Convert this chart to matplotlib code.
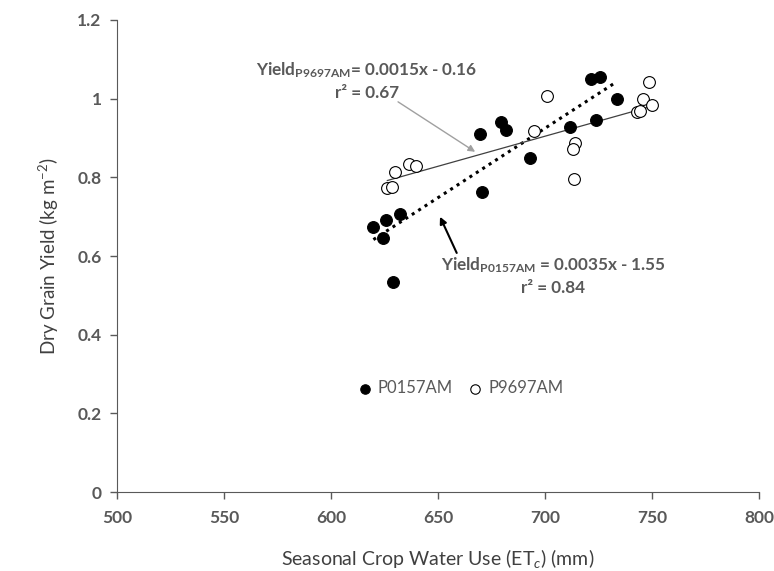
import numpy as np
import matplotlib
matplotlib.use("Agg")
import matplotlib.pyplot as plt

# ------------------------------------------------------------
# Data
# ------------------------------------------------------------

# P0157AM (filled circles)
etc_p0157 = [619.8, 625.7, 632.2, 624.2, 628.8, 670.6, 669.6, 679.3,
             681.8, 693.0, 721.4, 725.7, 733.5, 711.4, 723.8]
yield_p0157 = [0.673, 0.691, 0.706, 0.645, 0.534, 0.762, 0.909, 0.940,
               0.920, 0.850, 1.050, 1.055, 1.000, 0.928, 0.945]

# P9697AM (open circles)
etc_p9697 = [626.3, 628.4, 629.9, 636.6, 639.7, 700.8, 694.9, 714.0,
             712.9, 713.6, 748.7, 745.6, 750.0, 742.8, 744.4]
yield_p9697 = [0.772, 0.776, 0.814, 0.835, 0.828, 1.006, 0.917, 0.888,
               0.871, 0.795, 1.042, 0.999, 0.985, 0.966, 0.968]

x_ticks = [500, 550, 600, 650, 700, 750, 800]
y_ticks = [0, 0.2, 0.4, 0.6, 0.8, 1.0, 1.2]
y_tick_labels = ["0", "0.2", "0.4", "0.6", "0.8", "1", "1.2"]

# ------------------------------------------------------------
# Style
# ------------------------------------------------------------

plt.rcParams["font.family"] = ["Lato", "DejaVu Sans"]
plt.rcParams["mathtext.fontset"] = "custom"
plt.rcParams["mathtext.rm"] = "Lato"
plt.rcParams["mathtext.it"] = "Lato:italic"
plt.rcParams["mathtext.bf"] = "Lato:bold"

gray = "#595959"

fig = plt.figure(figsize=(7.74, 5.71), dpi=100)
ax = fig.add_axes([0.151, 0.138, 0.830, 0.827])

# ------------------------------------------------------------
# Scatter
# ------------------------------------------------------------

ax.scatter(etc_p0157, yield_p0157, s=72, color="black",
           edgecolor="black", linewidth=0.8, label="P0157AM", zorder=3)
ax.scatter(etc_p9697, yield_p9697, s=72, facecolor="white",
           edgecolor="black", linewidth=0.8, label="P9697AM", zorder=3)

# Trend lines (least squares on the data)
a1, b1 = np.polyfit(etc_p0157, yield_p0157, 1)
xs1 = np.array([min(etc_p0157), max(etc_p0157)])
ax.plot(xs1, a1 * xs1 + b1, color="black", linestyle=(0, (1, 1.5)),
        linewidth=2.2, zorder=2)

a2, b2 = np.polyfit(etc_p9697, yield_p9697, 1)
xs2 = np.array([min(etc_p9697), max(etc_p9697)])
ax.plot(xs2, a2 * xs2 + b2, color="#404040", linewidth=0.9, zorder=2)

# ------------------------------------------------------------
# Equations and arrows
# ------------------------------------------------------------

ax.text(616.8, 1.072, r"Yield$_{\mathbf{P9697AM}}$= 0.0015x - 0.16",
        ha="center", va="center", fontsize=12.3, fontweight="bold", color=gray)
ax.text(616.8, 1.014, "r² = 0.67", ha="center", va="center",
        fontsize=12.3, fontweight="bold", color=gray)

ax.text(703.7, 0.577, r"Yield$_{\mathbf{P0157AM}}$ = 0.0035x - 1.55",
        ha="center", va="center", fontsize=12.3, fontweight="bold", color=gray)
ax.text(703.7, 0.518, "r² = 0.84", ha="center", va="center",
        fontsize=12.3, fontweight="bold", color=gray)

ax.annotate("", xy=(667.3, 0.865), xytext=(631.3, 0.992),
            arrowprops=dict(arrowstyle="-|>", color="#a0a0a0", lw=1,
                            mutation_scale=10, shrinkA=0, shrinkB=0))
ax.annotate("", xy=(650.9, 0.700), xytext=(658.7, 0.608),
            arrowprops=dict(arrowstyle="-|>", color="black", lw=1.5,
                            mutation_scale=10, shrinkA=0, shrinkB=0))

# ------------------------------------------------------------
# Axes
# ------------------------------------------------------------

ax.set_xlim(500, 800)
ax.set_ylim(0, 1.2)
ax.set_xticks(x_ticks)
ax.set_yticks(y_ticks)
ax.set_yticklabels(y_tick_labels)

for lab in ax.get_xticklabels() + ax.get_yticklabels():
    lab.set_fontweight("bold")

ax.tick_params(axis="both", direction="out", length=5, width=1,
               color=gray, labelcolor=gray, labelsize=12.5)
ax.tick_params(axis="x", pad=8)
ax.tick_params(axis="y", pad=6)

ax.spines["top"].set_visible(False)
ax.spines["right"].set_visible(False)
ax.spines["left"].set_color(gray)
ax.spines["bottom"].set_color(gray)

ax.set_xlabel(r"Seasonal Crop Water Use (ET$_{\mathit{c}}$) (mm)",
              fontsize=14, color="#404040", labelpad=15)
ax.set_ylabel(r"Dry Grain Yield (kg m$^{\mathrm{-2}}$)",
              fontsize=13.5, color="#404040", labelpad=12)

ax.legend(loc="center", bbox_to_anchor=(0.535, 0.22), ncol=2,
          frameon=False, fontsize=12, labelcolor=gray,
          handlelength=0.8, handletextpad=0.4, columnspacing=0.9,
          markerscale=0.8)

fig.savefig("out.png", dpi=100)
